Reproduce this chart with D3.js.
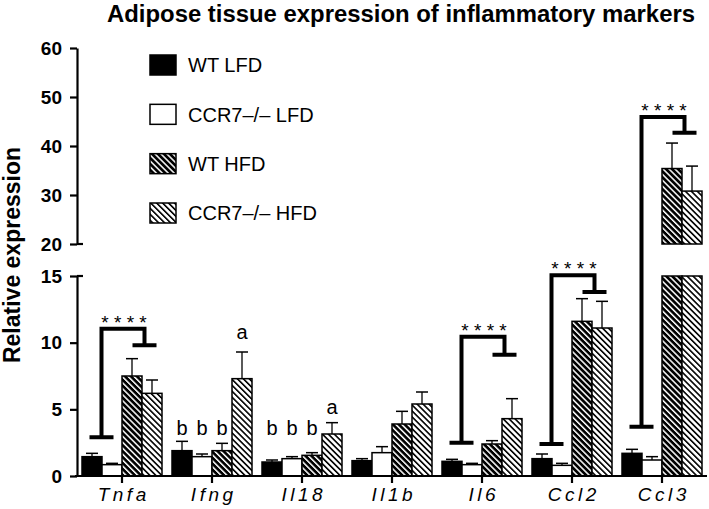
<!DOCTYPE html>
<html><head><meta charset="utf-8">
<script src="https://cdn.jsdelivr.net/npm/d3@7"></script>
<style>body{margin:0;background:#fff}svg{display:block;font-family:"Liberation Sans",Arial,sans-serif}</style>
</head><body>
<svg id="chart" width="709" height="509"></svg>
<script>
const genes = ["Tnfa","Ifng","Il18","Il1b","Il6","Ccl2","Ccl3"];
const groups = ["WT LFD","CCR7–/– LFD","WT HFD","CCR7–/– HFD"];
const wtLFD      = [1.45, 1.9, 1.05, 1.15, 1.1, 1.3, 1.7];
const wtLFDErr   = [1.7, 2.6, 1.2, 1.3, 1.25, 1.65, 2.0];
const koLFD      = [0.85, 1.45, 1.3, 1.75, 0.85, 0.8, 1.2];
const koLFDErr   = [0.95, 1.65, 1.45, 2.2, 0.95, 0.95, 1.45];
const wtHFD      = [7.5, 1.9, 1.55, 3.9, 2.4, 11.6, 35.4];
const wtHFDErr   = [8.8, 2.45, 1.75, 4.85, 2.65, 13.3, 40.6];
const koHFD      = [6.2, 7.3, 3.15, 5.4, 4.3, 11.1, 30.8];
const koHFDErr   = [7.2, 9.3, 4.0, 6.3, 5.8, 13.1, 35.9];
const lowerTicks = [0, 5, 10, 15];
const upperTicks = [20, 30, 40, 50, 60];
const breakTicks = [15, 20];
// significance brackets: gene, LFD-bar level, top level, HFD-bar level
const bracketGenes = ["Tnfa","Il6","Ccl2","Ccl3"];
const bracketLow   = [2.9, 2.5, 2.4, 3.7];
const bracketTop   = [11.05, 10.45, 15.1, 45.9];
const bracketHigh  = [9.8, 9.1, 13.8, 42.7];
// letter annotations
const letterGenes  = ["Ifng","Ifng","Ifng","Ifng","Il18","Il18","Il18","Il18"];
const letterGroup  = [0,1,2,3,0,1,2,3];
const letterText   = ["b","b","b","a","b","b","b","a"];
const letterLevel  = [3.6,3.6,3.6,10.8,3.6,3.6,3.6,5.2];

const series = [
  {name: groups[0], v: wtLFD, e: wtLFDErr},
  {name: groups[1], v: koLFD, e: koLFDErr},
  {name: groups[2], v: wtHFD, e: wtHFDErr},
  {name: groups[3], v: koHFD, e: koHFDErr}
];

const svg = d3.select("#chart");
const defs = svg.append("defs");
function hatch(id, bg, fg, w) {
  const P = 4.2;
  const p = defs.append("pattern").attr("id", id).attr("patternUnits", "userSpaceOnUse")
    .attr("width", P).attr("height", P).attr("patternTransform", "rotate(-45)");
  p.append("rect").attr("width", P).attr("height", P).attr("fill", bg);
  p.append("rect").attr("width", w).attr("height", P).attr("fill", fg);
}
hatch("hatchDark", "#000", "#fff", 1.5);
hatch("hatchLight", "#fff", "#000", 1.6);
const fills = ["#000", "#fff", "url(#hatchDark)", "url(#hatchLight)"];

const BASE = 476;
const y = d3.scaleLinear().domain([0, 15, 20, 60]).range([BASE, 276, 244, 48]);
const yLow = d3.scaleLinear().domain([0, 15]).range([BASE, 276]);
const yUp = d3.scaleLinear().domain([20, 60]).range([244, 48]);
const x0 = d3.scaleBand().domain(genes).range([77, 707]).padding(0);
const x1 = d3.scaleBand().domain(groups).range([5, 85]).padding(0);

// title
svg.append("text").attr("x", 401).attr("y", 22).attr("text-anchor", "middle")
  .attr("font-weight", "bold").attr("font-size", 23)
  .attr("textLength", 588).attr("lengthAdjust", "spacingAndGlyphs")
  .text("Adipose tissue expression of inflammatory markers");

// y label
svg.append("text").attr("transform", "translate(20,255) rotate(-90)")
  .attr("text-anchor", "middle").attr("font-weight", "bold").attr("font-size", 23)
  .text("Relative expression");

// bars
const barG = svg.append("g");
series.forEach((s, si) => {
  genes.forEach((g, gi) => {
    const v = s.v[gi];
    const bx = x0(g) + x1(s.name);
    const bw = x1.bandwidth();
    const segs = v <= 15 ? [[0, v]] : (v > 20 ? [[0, 15], [20, v]] : [[0, 15]]);
    segs.forEach(([a, b]) => {
      barG.append("rect").attr("x", bx).attr("y", y(b)).attr("width", bw)
        .attr("height", y(a) - y(b)).attr("fill", fills[si])
        .attr("stroke", "#000").attr("stroke-width", 1.5);
    });
    const cx = bx + bw / 2;
    barG.append("line").attr("x1", cx).attr("x2", cx).attr("y1", y(v)).attr("y2", y(s.e[gi]))
      .attr("stroke", "#000").attr("stroke-width", 1.3);
    barG.append("line").attr("x1", cx - 6).attr("x2", cx + 6).attr("y1", y(s.e[gi])).attr("y2", y(s.e[gi]))
      .attr("stroke", "#000").attr("stroke-width", 1.5);
  });
});

// axes
function styleAxis(g) {
  g.selectAll("path,line").attr("stroke", "#000").attr("stroke-width", 2.2);
  g.selectAll("text").attr("font-family", "Liberation Sans, Arial, sans-serif");
}
const axL = svg.append("g").attr("transform", "translate(77,0)")
  .call(d3.axisLeft(yLow).tickValues(lowerTicks).tickSize(7).tickSizeOuter(0).tickPadding(8));
const axU = svg.append("g").attr("transform", "translate(77,0)")
  .call(d3.axisLeft(yUp).tickValues(upperTicks).tickSize(7).tickSizeOuter(0).tickPadding(8));
[axL, axU].forEach(a => {
  styleAxis(a);
  a.selectAll("text").attr("font-size", 19).attr("font-weight", "bold").attr("fill", "#000");
});
// break stubs to the right of the axis at the segment ends
svg.append("g").selectAll("line").data(breakTicks).join("line")
  .attr("x1", 77).attr("x2", 83).attr("y1", d => y(d)).attr("y2", d => y(d))
  .attr("stroke", "#000").attr("stroke-width", 2.2);

const axB = svg.append("g").attr("transform", `translate(0,${BASE})`)
  .call(d3.axisBottom(x0).tickSize(7).tickSizeOuter(0).tickPadding(8));
styleAxis(axB);
axB.select(".domain").attr("d", `M75,0H707`);
axB.selectAll("text").attr("font-size", 19).attr("font-style", "italic").attr("fill", "#000")
  .attr("letter-spacing", "3.5px").attr("dx", "1.7").attr("dy", "0.55em");

// brackets
const brG = svg.append("g").attr("fill", "none").attr("stroke", "#000").attr("stroke-width", 4);
bracketGenes.forEach((g, i) => {
  const c = x0(g) + x0.bandwidth() / 2;
  const lx = c - 20.5, rx = c + 22.5;
  const yl = y(bracketLow[i]), yt = y(bracketTop[i]), yh = y(bracketHigh[i]);
  brG.append("path").attr("d", `M${lx - 12},${yl}H${lx + 12}M${lx},${yl}V${yt}H${rx}V${yh}M${rx - 12},${yh}H${rx + 12}`);
  svg.append("text").attr("x", (lx + rx) / 2 + 1).attr("y", yt).attr("text-anchor", "middle")
    .attr("font-size", 19).attr("fill", "#000").text("* * * *");
});

// letters
letterGenes.forEach((g, i) => {
  const cx = x0(g) + x1(groups[letterGroup[i]]) + x1.bandwidth() / 2;
  svg.append("text").attr("x", cx).attr("y", y(letterLevel[i])).attr("dy", "0.35em")
    .attr("text-anchor", "middle").attr("font-size", 20).text(letterText[i]);
});

// legend
const legY = d3.scalePoint().domain(groups).range([65, 213]);
groups.forEach((g, i) => {
  svg.append("rect").attr("x", 150).attr("y", legY(g) - 10).attr("width", 26).attr("height", 20)
    .attr("fill", fills[i]).attr("stroke", "#000").attr("stroke-width", 1.5);
  svg.append("text").attr("x", 188).attr("y", legY(g)).attr("dy", "0.36em")
    .attr("font-size", 20).text(g);
});
</script>
</body></html>
